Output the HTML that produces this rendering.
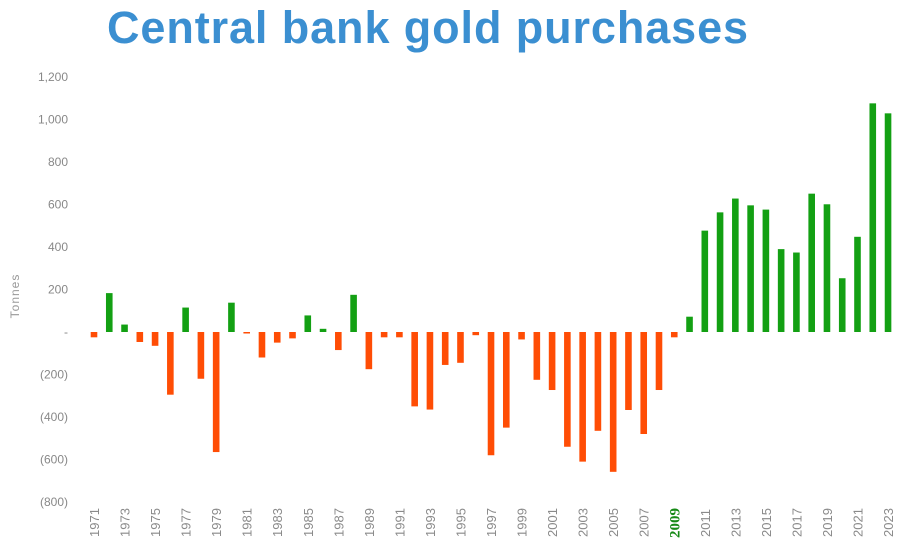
<!DOCTYPE html>
<html><head><meta charset="utf-8"><style>
html,body{margin:0;padding:0;background:#fff;width:900px;height:543px;overflow:hidden}
#title{position:absolute;left:107px;top:2px;font:bold 45px "Liberation Sans","DejaVu Sans",sans-serif;color:#3b8fd1;letter-spacing:0.9px;white-space:nowrap}
svg{position:absolute;left:0;top:0}
</style></head><body>
<div id="title">Central bank gold purchases</div>
<svg id="chart" width="900" height="543"></svg>
<script>
const years=[1971,1972,1973,1974,1975,1976,1977,1978,1979,1980,1981,1982,1983,1984,1985,1986,1987,1988,1989,1990,1991,1992,1993,1994,1995,1996,1997,1998,1999,2000,2001,2002,2003,2004,2005,2006,2007,2008,2009,2010,2011,2012,2013,2014,2015,2016,2017,2018,2019,2020,2021,2022,2023];
const values=[-25,183,35,-47,-65,-295,115,-220,-565,138,-3,-120,-50,-30,78,15,-85,175,-175,-25,-25,-350,-365,-155,-145,-15,-580,-450,-35,-225,-273,-540,-610,-465,-658,-367,-480,-273,-25,72,477,563,628,596,576,390,374,651,601,253,448,1076,1029];
const yTicks=[1200,1000,800,600,400,200,0,-200,-400,-600,-800];
const yTickLabels=["1,200","1,000","800","600","400","200","-","(200)","(400)","(600)","(800)"];
const svg=document.getElementById('chart');const NS='http://www.w3.org/2000/svg';
function y(v){return 332-v*0.2125;}
function x(i){return 94+i*15.27;}
function mk(t,a){const e=document.createElementNS(NS,t);for(const k in a)e.setAttribute(k,a[k]);svg.appendChild(e);return e;}
yTicks.forEach((v,i)=>{const t=mk('text',{x:68,y:y(v)+4,'text-anchor':'end','font-size':12,'font-family':'Liberation Sans, sans-serif',fill:'#888'});t.textContent=yTickLabels[i];

});
const yt=mk('text',{x:0,y:0,transform:'translate(19,296) rotate(-90)','text-anchor':'middle','font-size':12,'font-family':'Liberation Sans, sans-serif',fill:'#999','letter-spacing':'1'});yt.textContent='Tonnes';


values.forEach((v,i)=>{const top=Math.min(y(v),y(0)),h=Math.max(Math.abs(y(v)-y(0)),1.5);
const r=mk('rect',{x:x(i)-3.3,y:top,width:6.6,height:h,fill:v>=0?'#13a013':'#ff4d05'});

});
years.forEach((yr,i)=>{if(yr%2===0)return;const is09=yr===2009;
const t=mk('text',{x:0,y:0,transform:`translate(${x(i)+5},${is09?538:537}) rotate(-90)`,'font-size':is09?15:13,'font-weight':is09?'bold':'normal','font-family':is09?'Liberation Serif, serif':'Liberation Sans, sans-serif',fill:is09?'#168a16':'#8a8a8a'});t.textContent=yr;

});
</script>
</body></html>
